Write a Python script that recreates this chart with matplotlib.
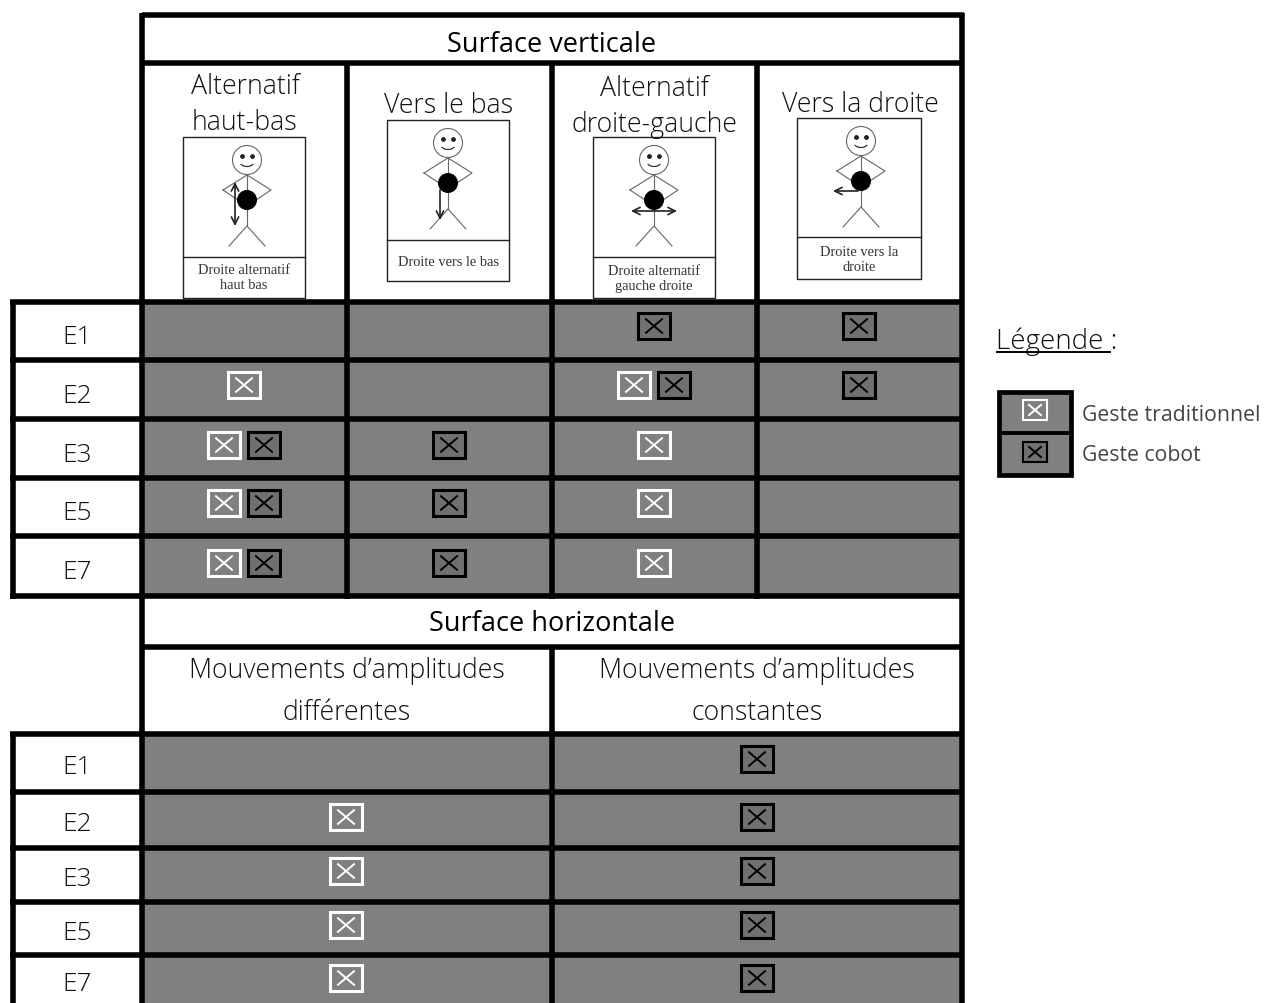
import matplotlib
matplotlib.use("Agg")
import matplotlib.pyplot as plt
from matplotlib.patches import Rectangle, Circle, Arc

# ---- content ----
row_labels = ["E1", "E2", "E3", "E5", "E7"]
vertical_title = "Surface verticale"
vertical_heads = ["Alternatif\nhaut-bas", "Vers le bas", "Alternatif\ndroite-gauche", "Vers la droite"]
captions = ["Droite alternatif\nhaut bas", "Droite vers le bas", "Droite alternatif\ngauche droite", "Droite vers la\ndroite"]
vertical_marks = [["", "", "C", "C"],
                  ["T", "", "TC", "C"],
                  ["TC", "C", "T", ""],
                  ["TC", "C", "T", ""],
                  ["TC", "C", "T", ""]]
horizontal_title = "Surface horizontale"
horizontal_heads = ["Mouvements d\u2019amplitudes\ndifférentes", "Mouvements d\u2019amplitudes\nconstantes"]
horizontal_marks = [["", "C"], ["T", "C"], ["T", "C"], ["T", "C"], ["T", "C"]]
legend_title = "Légende :"
legend_labels = ["Geste traditionnel", "Geste cobot"]

# ---- layout (pixels) ----
GREY = "#808080"
FONT = "Open Sans"
V_X = [142, 347, 552, 757, 962]
V_Y = [303, 361, 420, 479, 537, 597]
V_MARK_Y = [327, 386, 446, 504, 564]
H_X = [142, 552, 962]
H_Y = [735, 793, 849, 903, 956, 1006]
H_MARK_Y = [760, 818, 872, 926, 979]
LW = 4.0

fig = plt.figure(figsize=(12.64, 10.04), dpi=100)
ax = fig.add_axes([0, 0, 1, 1])
ax.set_xlim(0, 1264)
ax.set_ylim(1004, 0)
ax.axis("off")


def checkbox(cx, cy, kind, w=32, h=26, lw=2.2, xs=8):
    col = "white" if kind == "T" else "black"
    face = "none" if kind == "T" else "#707070"
    ax.add_patch(Rectangle((cx - w / 2, cy - h / 2), w, h, fc=face, ec=col, lw=lw, zorder=5))
    ax.plot([cx - xs, cx + xs], [cy - xs * .85, cy + xs * .85], color=col, lw=1.4, zorder=6)
    ax.plot([cx - xs, cx + xs], [cy + xs * .85, cy - xs * .85], color=col, lw=1.4, zorder=6)


def marks(kinds, cx, cy):
    if len(kinds) == 1:
        checkbox(cx, cy, kinds)
    elif len(kinds) == 2:
        checkbox(cx - 20, cy, kinds[0])
        checkbox(cx + 20, cy, kinds[1])


def figure_box(x0, x1, y0, y1, sep, hx, kind, caption, cap_y):
    ax.add_patch(Rectangle((x0, y0), x1 - x0, y1 - y0, fc="white", ec="#222222", lw=1.0, zorder=3))
    ax.plot([x0, x1], [sep, sep], color="#222222", lw=1.0, zorder=4)
    hy = y0 + 23
    g = dict(color="#666666", lw=0.8, zorder=4)
    ax.add_patch(Circle((hx, hy), 14.5, fc="white", ec="#666666", lw=0.8, zorder=4))
    ax.plot([hx - 5, hx - 5.1], [hy - 4, hy - 4], "o", ms=2.2, color="#222222", zorder=5)
    ax.plot([hx + 4.5, hx + 4.6], [hy - 4, hy - 4], "o", ms=2.2, color="#222222", zorder=5)
    ax.add_patch(Arc((hx, hy + 1), 15, 11, theta1=25, theta2=155, color="#333333", lw=0.9, zorder=5))
    ax.plot([hx, hx], [hy + 14.5, hy + 66], **g)
    ax.plot([hx - 24, hx, hx + 24, hx, hx - 24], [hy + 30, hy + 15, hy + 30, hy + 46, hy + 30], **g)
    ax.plot([hx - 18, hx, hx + 18], [hy + 86, hy + 66, hy + 86], **g)
    ax.add_patch(Circle((hx, hy + 40), 9.3, fc="black", ec="black", zorder=6))
    def arrow(p, q, style="->"):
        ax.annotate("", xy=q, xytext=p, zorder=7,
                    arrowprops=dict(arrowstyle=style, color="#222222", lw=1.2, mutation_scale=13,
                                    shrinkA=0, shrinkB=0))
    if kind == "ud":
        arrow((hx - 12, hy + 66), (hx - 12, hy + 22), "<->")
    elif kind == "d":
        arrow((hx - 8, hy + 47), (hx - 8, hy + 77))
    elif kind == "lr":
        arrow((hx - 23, hy + 51), (hx + 23, hy + 51), "<->")
    elif kind == "l":
        arrow((hx - 3, hy + 50), (hx - 28, hy + 50))
    ax.text((x0 + x1) / 2, cap_y, caption, family="Liberation Serif", fontsize=10.4, color="#333333",
            ha="center", va="center", linespacing=1.2, zorder=5)


# grey bodies
for i in range(5):
    ax.add_patch(Rectangle((V_X[0], V_Y[i]), V_X[-1] - V_X[0], V_Y[i + 1] - V_Y[i], fc=GREY, ec="none", zorder=1))
    ax.add_patch(Rectangle((H_X[0], H_Y[i]), H_X[-1] - H_X[0], H_Y[i + 1] - H_Y[i], fc=GREY, ec="none", zorder=1))

# rules
line = dict(color="black", lw=LW, zorder=2, solid_capstyle="butt")
ax.plot([142, 964], [16, 16], **line)
ax.plot([142, 962], [63.5, 63.5], **line)
for y in V_Y:
    ax.plot([10, 964], [y, y], **line)
ax.plot([142, 962], [648, 648], **line)
for y in H_Y:
    ax.plot([10, 964], [y, y], **line)
ax.plot([142, 142], [14, 1004], **line)
ax.plot([962, 962], [14, 1004], **line)
ax.plot([12.5, 12.5], [301, 600], **line)
ax.plot([12.5, 12.5], [733, 1004], **line)
for x in V_X[1:-1]:
    ax.plot([x, x], [63, 600], **line)
ax.plot([552, 552], [648, 1004], **line)

# titles and heads
title = dict(family=FONT, fontsize=19.5, ha="center", va="center", color="black", zorder=5)
head = dict(family=FONT, fontsize=19.2, fontweight="light", ha="center", va="center", color="#111111",
            linespacing=1.36, zorder=5)
ax.text(552, 45, vertical_title, **title)
ax.text(552, 624, horizontal_title, **title)
for x, y, s in zip([245, 449, 654, 860], [105, 106, 107, 105], vertical_heads):
    ax.text(x, y, s, **head)
for x, s in zip([347, 757], horizontal_heads):
    ax.text(x, 692, s, family=FONT, fontsize=19.2, fontweight="light", ha="center", va="center",
            color="#111111", linespacing=1.7, zorder=5)

# figures
figure_box(183, 305, 138, 299, 258, 247, "ud", captions[0], 278)
figure_box(387, 509, 121, 282, 241, 448, "d", captions[1], 263)
figure_box(593, 715, 138, 299, 258, 654, "lr", captions[2], 279)
figure_box(797, 921, 119, 280, 238, 861, "l", captions[3], 260)

# rows
for i, lab in enumerate(row_labels):
    ax.text(77, (V_Y[i] + V_Y[i + 1]) / 2 + 6, lab, family=FONT, fontsize=19, fontweight="light", ha="center", va="center", color="#111111")
    ax.text(77, (H_Y[i] + H_Y[i + 1]) / 2 + 4, lab, family=FONT, fontsize=19, fontweight="light", ha="center", va="center", color="#111111")
    for j, cx in enumerate([244, 449, 654, 859]):
        marks(vertical_marks[i][j], cx, V_MARK_Y[i])
    for j, cx in enumerate([346, 757]):
        marks(horizontal_marks[i][j], cx, H_MARK_Y[i])

# legend
ax.text(996, 342, legend_title, family=FONT, fontsize=20, fontweight="light", ha="left", va="center", color="#111111")
ax.plot([996, 1111], [353, 353], color="black", lw=1.4, zorder=5, solid_capstyle="butt")
ax.add_patch(Rectangle((999, 393), 72, 83, fc=GREY, ec="black", lw=3.4, zorder=3))
ax.plot([998, 1072], [434, 434], color="black", lw=2.8, zorder=4, solid_capstyle="butt")
checkbox(1035, 411, "T", w=24, h=20, lw=1.5, xs=6)
checkbox(1035, 453, "C", w=24, h=20, lw=1.5, xs=6)
ax.text(1082, 416, legend_labels[0], family=FONT, fontsize=15.3, ha="left", va="center", color="#444444")
ax.text(1082, 456, legend_labels[1], family=FONT, fontsize=15.3, ha="left", va="center", color="#444444")

fig.savefig("out.png", dpi=100)
